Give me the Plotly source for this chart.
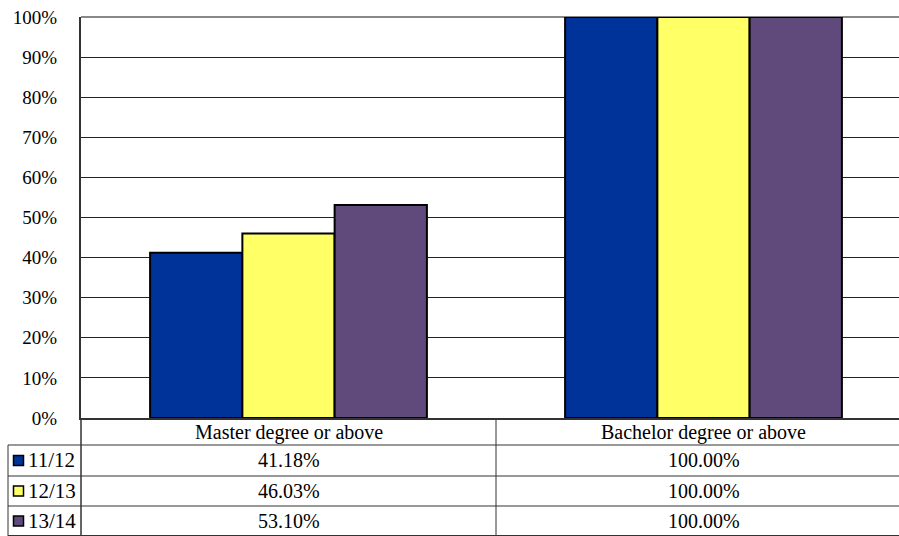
import plotly.graph_objects as go

categories = ["Master degree or above", "Bachelor degree or above"]
series_names = ["11/12", "12/13", "13/14"]
values_1112 = [41.18, 100.00]
values_1213 = [46.03, 100.00]
values_1314 = [53.10, 100.00]
series_values = [values_1112, values_1213, values_1314]
colors = ["#003399", "#FFFF66", "#604A7B"]
y_ticks = [0, 10, 20, 30, 40, 50, 60, 70, 80, 90, 100]

W, H = 899, 536
L, R, T, B = 81, 0, 17, 118
PW, PH = W - L - R, H - T - B

def px(x):
    return (x - L) / PW

def py(y):
    return (H - B - y) / PH

FONT = "Liberation Serif"

fig = go.Figure()
for name, vals, col in zip(series_names, series_values, colors):
    fig.add_trace(go.Bar(
        x=list(range(len(categories))), y=vals, name=name,
        marker=dict(color=col, line=dict(color="black", width=2)),
    ))

shapes = []
annotations = []
# top border of plot area
shapes.append(dict(type="line", xref="paper", yref="paper", x0=0, x1=1.02, y0=1, y1=1,
                   line=dict(color="#888888", width=2), layer="below"))
# table rows (pixel positions)
row_tops = [445, 476, 506]
row_bottoms = [476, 506, 536]
line_col = "#333333"
for y in row_tops + [535.5]:
    shapes.append(dict(type="line", xref="paper", yref="paper",
                       x0=px(8), x1=px(920), y0=py(y), y1=py(y),
                       line=dict(color=line_col, width=1)))
# vertical lines
shapes.append(dict(type="line", xref="paper", yref="paper",
                   x0=px(8), x1=px(8), y0=py(445), y1=py(536),
                   line=dict(color=line_col, width=1)))
shapes.append(dict(type="line", xref="paper", yref="paper",
                   x0=0, x1=0, y0=py(418), y1=py(536),
                   line=dict(color=line_col, width=1.5)))
shapes.append(dict(type="line", xref="x", yref="paper",
                   x0=0.5, x1=0.5, y0=py(418), y1=py(536),
                   line=dict(color=line_col, width=1)))

# category header labels
for i, c in enumerate(categories):
    annotations.append(dict(x=i, y=py(432), xref="x", yref="paper", text=c,
                            showarrow=False, font=dict(family=FONT, size=20, color="black"),
                            xanchor="center", yanchor="middle"))

# series rows
for r, (name, vals, col) in enumerate(zip(series_names, series_values, colors)):
    yc = (row_tops[r] + row_bottoms[r]) / 2
    shapes.append(dict(type="rect", xref="paper", yref="paper",
                       x0=px(13.5), x1=px(23.5), y0=py(yc - 5), y1=py(yc + 5),
                       fillcolor=col, line=dict(color="black", width=1.5)))
    annotations.append(dict(x=px(26), y=py(yc), xref="paper", yref="paper", text=name,
                            showarrow=False, font=dict(family=FONT, size=21, color="black"),
                            xanchor="left", yanchor="middle"))
    for i, v in enumerate(vals):
        annotations.append(dict(x=i, y=py(yc), xref="x", yref="paper", text=f"{v:.2f}%",
                                showarrow=False, font=dict(family=FONT, size=20, color="black"),
                                xanchor="center", yanchor="middle"))

fig.update_layout(
    width=W, height=H,
    margin=dict(l=L, r=R, t=T, b=B, pad=0),
    paper_bgcolor="white", plot_bgcolor="white",
    barmode="group", bargap=0.333, bargroupgap=0,
    showlegend=False,
    shapes=shapes, annotations=annotations,
    xaxis=dict(range=[-0.5, -0.5 + PW / 415], showticklabels=False, showgrid=False,
               zeroline=False, showline=True, linecolor="#333333", linewidth=1.5,
               ticks="", fixedrange=True),
    yaxis=dict(range=[0, 100], tickvals=y_ticks, ticktext=[f"{t}%" for t in y_ticks],
               showgrid=True, gridcolor="#222222", gridwidth=1,
               zeroline=False, showline=True, linecolor="#333333", linewidth=2,
               ticks="", ticklabelstandoff=18,
               tickfont=dict(family=FONT, size=19, color="black"), fixedrange=True),
)

fig.write_html("out.html")
